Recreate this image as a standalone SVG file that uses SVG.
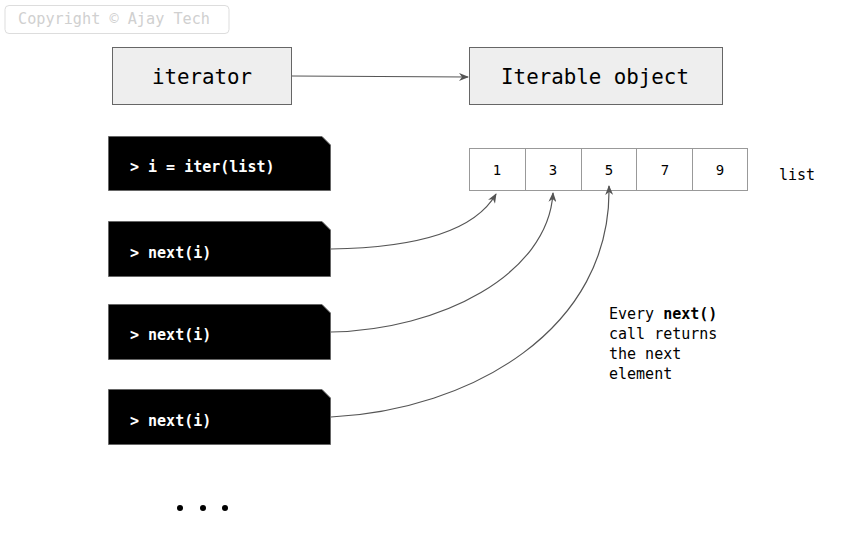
<svg xmlns="http://www.w3.org/2000/svg" width="842" height="542" viewBox="0 0 842 542">
  <defs>
    <style>
      .mono { font-family: "DejaVu Sans Mono", "Liberation Mono", monospace; }
      .box { fill: #eeeeee; stroke: #666666; stroke-width: 1; }
      .cmd { fill: #000000; stroke: #666666; stroke-width: 1; }
      .cmdtext { fill: #ffffff; font-size: 15px; font-weight: bold; }
      .cell { fill: #ffffff; stroke: #999999; stroke-width: 1; }
      .celltext { fill: #000000; font-size: 14px; text-anchor: middle; }
      .edge { fill: none; stroke: #555555; stroke-width: 1.2; marker-end: url(#arrow); }
    </style>
    <marker id="arrow" viewBox="0 0 10 8" refX="9" refY="4" markerWidth="10" markerHeight="8" markerUnits="userSpaceOnUse" orient="auto">
      <path d="M0,0 L10,4 L0,8 L3,4 z" fill="#555555"/>
    </marker>
  </defs>
  <rect width="842" height="542" fill="#ffffff"/>

  <!-- watermark -->
  <g id="copyright">
    <rect x="5" y="5.5" width="224" height="28" rx="4" fill="#ffffff" stroke="#dddddd"/>
    <text class="mono" x="18" y="24" font-size="15.2" fill="#d0d0d0">Copyright © Ajay Tech</text>
  </g>

  <g id="iterator">
    <rect class="box" x="112.5" y="47.5" width="179" height="57"/>
    <text class="mono" x="202" y="84" font-size="20.8" text-anchor="middle">iterator</text>
  </g>
  <g id="iterable">
    <rect class="box" x="469.5" y="47.5" width="253" height="57"/>
    <text class="mono" x="595" y="84" font-size="20.8" text-anchor="middle">Iterable object</text>
  </g>

  <g id="cmd-iter">
    <path class="cmd" d="M108.5,136.5 H322 L330.5,145 V190.5 H108.5 Z"/>
    <text class="mono cmdtext" x="130" y="172">&gt; i = iter(list)</text>
  </g>
  <g id="cmd-next-1">
    <path class="cmd" d="M108.5,221.5 H322 L330.5,230 V276.5 H108.5 Z"/>
    <text class="mono cmdtext" x="130" y="258">&gt; next(i)</text>
  </g>
  <g id="cmd-next-2">
    <path class="cmd" d="M108.5,304.5 H322 L330.5,313 V359.5 H108.5 Z"/>
    <text class="mono cmdtext" x="130" y="340">&gt; next(i)</text>
  </g>
  <g id="cmd-next-3">
    <path class="cmd" d="M108.5,389.5 H322 L330.5,398 V444.5 H108.5 Z"/>
    <text class="mono cmdtext" x="130" y="426">&gt; next(i)</text>
  </g>

  <g id="list">
    <rect class="cell" x="469.5" y="148.5" width="56" height="42"/>
    <rect class="cell" x="525.5" y="148.5" width="56" height="42"/>
    <rect class="cell" x="581.5" y="148.5" width="55" height="42"/>
    <rect class="cell" x="636.5" y="148.5" width="56" height="42"/>
    <rect class="cell" x="692.5" y="148.5" width="55" height="42"/>
    <text class="mono celltext" x="497" y="175">1</text>
    <text class="mono celltext" x="553" y="175">3</text>
    <text class="mono celltext" x="609" y="175">5</text>
    <text class="mono celltext" x="665" y="175">7</text>
    <text class="mono celltext" x="720" y="175">9</text>
  </g>
  <g id="list-label">
    <text class="mono" x="779" y="180" font-size="15">list</text>
  </g>

  <g id="note">
    <text class="mono" font-size="15" fill="#000000">
      <tspan x="609" y="319">Every <tspan font-weight="bold">next()</tspan></tspan>
      <tspan x="609" y="339">call returns</tspan>
      <tspan x="609" y="359">the next</tspan>
      <tspan x="609" y="379">element</tspan>
    </text>
  </g>

  <g id="ellipsis">
    <circle cx="180" cy="508" r="3" fill="#000000"/>
    <circle cx="203" cy="508" r="3" fill="#000000"/>
    <circle cx="225" cy="508" r="3" fill="#000000"/>
  </g>

  <g id="connectors">
    <path class="edge" d="M292,76 L468,77"/>
    <path class="edge" d="M331,249 C400,248 472,236 496,194"/>
    <path class="edge" d="M331,332 C440,330 548,275 553,193"/>
    <path class="edge" d="M331,417 C470,410 612,330 609,186"/>
  </g>
</svg>
